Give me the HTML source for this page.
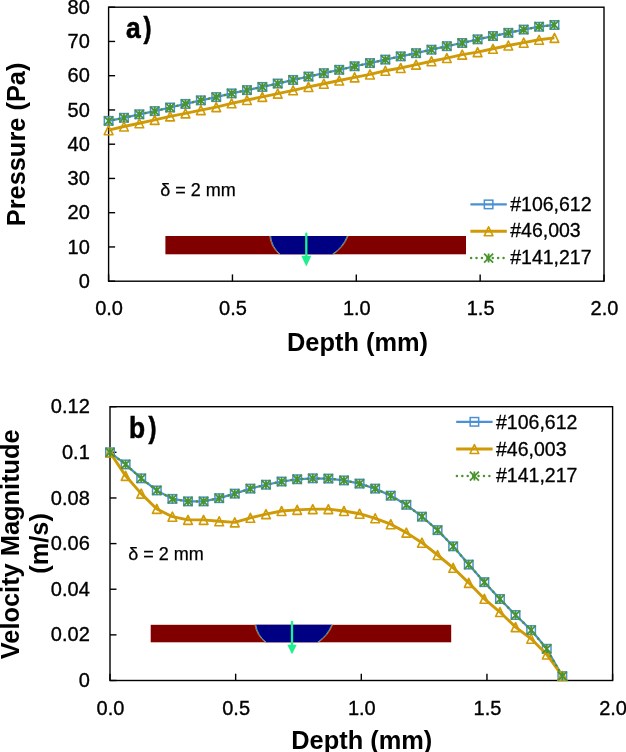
<!DOCTYPE html>
<html><head><meta charset="utf-8"><style>
html,body{margin:0;padding:0;background:#fff;}
body{width:626px;height:752px;overflow:hidden;}
svg{display:block;will-change:transform;}
text{font-family:'Liberation Sans', sans-serif;fill:#000;}
.tk{font-size:20px;stroke:#000;stroke-width:0.35px;}
.lg{font-size:19.5px;stroke:#000;stroke-width:0.3px;}
.dl{font-size:18px;stroke:#000;stroke-width:0.25px;}
.at{font-size:25.4px;font-weight:bold;}
.pl{font-size:30px;font-weight:bold;stroke:#000;stroke-width:0.6px;}
</style></head><body>
<svg width="626" height="752" viewBox="0 0 626 752">
<rect width="626" height="752" fill="#fff"/>
<rect x="108.60" y="7.20" width="495.40" height="274.00" fill="none" stroke="#000" stroke-width="1.4"/>
<line x1="108.60" y1="281.20" x2="108.60" y2="274.40" stroke="#000" stroke-width="1.4"/>
<text x="109.10" y="315.30" text-anchor="middle" class="tk">0.0</text>
<line x1="232.45" y1="281.20" x2="232.45" y2="274.40" stroke="#000" stroke-width="1.4"/>
<text x="232.95" y="315.30" text-anchor="middle" class="tk">0.5</text>
<line x1="356.30" y1="281.20" x2="356.30" y2="274.40" stroke="#000" stroke-width="1.4"/>
<text x="356.80" y="315.30" text-anchor="middle" class="tk">1.0</text>
<line x1="480.15" y1="281.20" x2="480.15" y2="274.40" stroke="#000" stroke-width="1.4"/>
<text x="480.65" y="315.30" text-anchor="middle" class="tk">1.5</text>
<line x1="604.00" y1="281.20" x2="604.00" y2="274.40" stroke="#000" stroke-width="1.4"/>
<text x="604.50" y="315.30" text-anchor="middle" class="tk">2.0</text>
<line x1="108.60" y1="281.20" x2="115.10" y2="281.20" stroke="#000" stroke-width="1.4"/>
<text x="89.80" y="287.80" text-anchor="end" class="tk">0</text>
<line x1="108.60" y1="246.95" x2="115.10" y2="246.95" stroke="#000" stroke-width="1.4"/>
<text x="89.80" y="253.55" text-anchor="end" class="tk">10</text>
<line x1="108.60" y1="212.70" x2="115.10" y2="212.70" stroke="#000" stroke-width="1.4"/>
<text x="89.80" y="219.30" text-anchor="end" class="tk">20</text>
<line x1="108.60" y1="178.45" x2="115.10" y2="178.45" stroke="#000" stroke-width="1.4"/>
<text x="89.80" y="185.05" text-anchor="end" class="tk">30</text>
<line x1="108.60" y1="144.20" x2="115.10" y2="144.20" stroke="#000" stroke-width="1.4"/>
<text x="89.80" y="150.80" text-anchor="end" class="tk">40</text>
<line x1="108.60" y1="109.95" x2="115.10" y2="109.95" stroke="#000" stroke-width="1.4"/>
<text x="89.80" y="116.55" text-anchor="end" class="tk">50</text>
<line x1="108.60" y1="75.70" x2="115.10" y2="75.70" stroke="#000" stroke-width="1.4"/>
<text x="89.80" y="82.30" text-anchor="end" class="tk">60</text>
<line x1="108.60" y1="41.45" x2="115.10" y2="41.45" stroke="#000" stroke-width="1.4"/>
<text x="89.80" y="48.05" text-anchor="end" class="tk">70</text>
<line x1="108.60" y1="7.20" x2="115.10" y2="7.20" stroke="#000" stroke-width="1.4"/>
<text x="89.80" y="13.80" text-anchor="end" class="tk">80</text>
<rect x="165.40" y="236.00" width="300.60" height="18.30" fill="#800000"/>
<path d="M270.30 236.00 A27 27 0 0 0 280.00 254.30 L332.60 254.30 A39 39 0 0 0 347.60 236.00 Z" fill="#000082"/>
<path d="M270.30 236.00 A27 27 0 0 0 280.00 254.30" fill="none" stroke="#f07010" stroke-width="0.9" transform="translate(-0.55 0)"/>
<path d="M270.30 236.00 A27 27 0 0 0 280.00 254.30" fill="none" stroke="#30c0f0" stroke-width="0.8" transform="translate(0.35 0)"/>
<path d="M332.60 254.30 A39 39 0 0 0 347.60 236.00" fill="none" stroke="#f07010" stroke-width="0.9" transform="translate(0.55 0)"/>
<path d="M332.60 254.30 A39 39 0 0 0 347.60 236.00" fill="none" stroke="#30c0f0" stroke-width="0.8" transform="translate(-0.35 0)"/>
<line x1="306.30" y1="233.70" x2="306.30" y2="256.80" stroke="#1ef08e" stroke-width="2.3" stroke-linecap="round"/>
<path d="M301.30 255.80 L311.30 255.80 L306.30 266.40 Z" fill="#1ef08e"/>
<path d="M108.60 120.88 L123.97 117.79 L139.35 114.30 L154.72 111.11 L170.10 107.52 L185.47 103.92 L200.85 100.33 L216.22 97.11 L231.60 93.41 L246.97 90.12 L262.34 86.93 L277.72 83.54 L293.09 79.95 L308.47 76.56 L323.84 73.17 L339.22 69.81 L354.59 66.25 L369.97 63.06 L385.34 59.60 L400.72 56.35 L416.09 53.16 L431.46 49.70 L446.84 46.18 L462.21 42.99 L477.59 39.33 L492.96 36.04 L508.34 32.85 L523.71 29.57 L539.09 26.72 L554.46 24.98" fill="none" stroke="#4a90d2" stroke-width="2.25" stroke-linejoin="round"/>
<rect x="104.35" y="116.63" width="8.50" height="8.50" fill="none" stroke="#4a90d2" stroke-width="1.5"/>
<rect x="119.72" y="113.54" width="8.50" height="8.50" fill="none" stroke="#4a90d2" stroke-width="1.5"/>
<rect x="135.10" y="110.05" width="8.50" height="8.50" fill="none" stroke="#4a90d2" stroke-width="1.5"/>
<rect x="150.47" y="106.86" width="8.50" height="8.50" fill="none" stroke="#4a90d2" stroke-width="1.5"/>
<rect x="165.85" y="103.27" width="8.50" height="8.50" fill="none" stroke="#4a90d2" stroke-width="1.5"/>
<rect x="181.22" y="99.67" width="8.50" height="8.50" fill="none" stroke="#4a90d2" stroke-width="1.5"/>
<rect x="196.60" y="96.08" width="8.50" height="8.50" fill="none" stroke="#4a90d2" stroke-width="1.5"/>
<rect x="211.97" y="92.86" width="8.50" height="8.50" fill="none" stroke="#4a90d2" stroke-width="1.5"/>
<rect x="227.35" y="89.16" width="8.50" height="8.50" fill="none" stroke="#4a90d2" stroke-width="1.5"/>
<rect x="242.72" y="85.87" width="8.50" height="8.50" fill="none" stroke="#4a90d2" stroke-width="1.5"/>
<rect x="258.09" y="82.68" width="8.50" height="8.50" fill="none" stroke="#4a90d2" stroke-width="1.5"/>
<rect x="273.47" y="79.29" width="8.50" height="8.50" fill="none" stroke="#4a90d2" stroke-width="1.5"/>
<rect x="288.84" y="75.70" width="8.50" height="8.50" fill="none" stroke="#4a90d2" stroke-width="1.5"/>
<rect x="304.22" y="72.31" width="8.50" height="8.50" fill="none" stroke="#4a90d2" stroke-width="1.5"/>
<rect x="319.59" y="68.92" width="8.50" height="8.50" fill="none" stroke="#4a90d2" stroke-width="1.5"/>
<rect x="334.97" y="65.56" width="8.50" height="8.50" fill="none" stroke="#4a90d2" stroke-width="1.5"/>
<rect x="350.34" y="62.00" width="8.50" height="8.50" fill="none" stroke="#4a90d2" stroke-width="1.5"/>
<rect x="365.72" y="58.81" width="8.50" height="8.50" fill="none" stroke="#4a90d2" stroke-width="1.5"/>
<rect x="381.09" y="55.35" width="8.50" height="8.50" fill="none" stroke="#4a90d2" stroke-width="1.5"/>
<rect x="396.47" y="52.10" width="8.50" height="8.50" fill="none" stroke="#4a90d2" stroke-width="1.5"/>
<rect x="411.84" y="48.91" width="8.50" height="8.50" fill="none" stroke="#4a90d2" stroke-width="1.5"/>
<rect x="427.21" y="45.45" width="8.50" height="8.50" fill="none" stroke="#4a90d2" stroke-width="1.5"/>
<rect x="442.59" y="41.93" width="8.50" height="8.50" fill="none" stroke="#4a90d2" stroke-width="1.5"/>
<rect x="457.96" y="38.74" width="8.50" height="8.50" fill="none" stroke="#4a90d2" stroke-width="1.5"/>
<rect x="473.34" y="35.08" width="8.50" height="8.50" fill="none" stroke="#4a90d2" stroke-width="1.5"/>
<rect x="488.71" y="31.79" width="8.50" height="8.50" fill="none" stroke="#4a90d2" stroke-width="1.5"/>
<rect x="504.09" y="28.60" width="8.50" height="8.50" fill="none" stroke="#4a90d2" stroke-width="1.5"/>
<rect x="519.46" y="25.32" width="8.50" height="8.50" fill="none" stroke="#4a90d2" stroke-width="1.5"/>
<rect x="534.84" y="22.47" width="8.50" height="8.50" fill="none" stroke="#4a90d2" stroke-width="1.5"/>
<rect x="550.21" y="20.73" width="8.50" height="8.50" fill="none" stroke="#4a90d2" stroke-width="1.5"/>
<path d="M108.60 130.19 L123.97 126.49 L139.35 123.27 L154.72 119.88 L170.10 116.39 L185.47 113.41 L200.85 110.09 L216.22 107.11 L231.60 103.31 L246.97 100.02 L262.34 96.83 L277.72 93.61 L293.09 90.32 L308.47 86.93 L323.84 83.71 L339.22 80.53 L354.59 77.34 L369.97 74.43 L385.34 70.73 L400.72 67.96 L416.09 64.64 L431.46 61.21 L446.84 58.06 L462.21 54.67 L477.59 52.17 L492.96 48.78 L508.34 45.49 L523.71 42.68 L539.09 39.77 L554.46 37.89" fill="none" stroke="#cf9a05" stroke-width="2.9" stroke-linejoin="round"/>
<path d="M108.60 125.69 L112.95 134.69 L104.25 134.69 Z" fill="none" stroke="#cf9a05" stroke-width="1.6" stroke-linejoin="round"/>
<path d="M123.97 121.99 L128.32 130.99 L119.62 130.99 Z" fill="none" stroke="#cf9a05" stroke-width="1.6" stroke-linejoin="round"/>
<path d="M139.35 118.77 L143.70 127.77 L135.00 127.77 Z" fill="none" stroke="#cf9a05" stroke-width="1.6" stroke-linejoin="round"/>
<path d="M154.72 115.38 L159.07 124.38 L150.37 124.38 Z" fill="none" stroke="#cf9a05" stroke-width="1.6" stroke-linejoin="round"/>
<path d="M170.10 111.89 L174.45 120.89 L165.75 120.89 Z" fill="none" stroke="#cf9a05" stroke-width="1.6" stroke-linejoin="round"/>
<path d="M185.47 108.91 L189.82 117.91 L181.12 117.91 Z" fill="none" stroke="#cf9a05" stroke-width="1.6" stroke-linejoin="round"/>
<path d="M200.85 105.59 L205.20 114.59 L196.50 114.59 Z" fill="none" stroke="#cf9a05" stroke-width="1.6" stroke-linejoin="round"/>
<path d="M216.22 102.61 L220.57 111.61 L211.87 111.61 Z" fill="none" stroke="#cf9a05" stroke-width="1.6" stroke-linejoin="round"/>
<path d="M231.60 98.81 L235.95 107.81 L227.25 107.81 Z" fill="none" stroke="#cf9a05" stroke-width="1.6" stroke-linejoin="round"/>
<path d="M246.97 95.52 L251.32 104.52 L242.62 104.52 Z" fill="none" stroke="#cf9a05" stroke-width="1.6" stroke-linejoin="round"/>
<path d="M262.34 92.33 L266.69 101.33 L257.99 101.33 Z" fill="none" stroke="#cf9a05" stroke-width="1.6" stroke-linejoin="round"/>
<path d="M277.72 89.11 L282.07 98.11 L273.37 98.11 Z" fill="none" stroke="#cf9a05" stroke-width="1.6" stroke-linejoin="round"/>
<path d="M293.09 85.82 L297.44 94.82 L288.74 94.82 Z" fill="none" stroke="#cf9a05" stroke-width="1.6" stroke-linejoin="round"/>
<path d="M308.47 82.43 L312.82 91.43 L304.12 91.43 Z" fill="none" stroke="#cf9a05" stroke-width="1.6" stroke-linejoin="round"/>
<path d="M323.84 79.21 L328.19 88.21 L319.49 88.21 Z" fill="none" stroke="#cf9a05" stroke-width="1.6" stroke-linejoin="round"/>
<path d="M339.22 76.03 L343.57 85.03 L334.87 85.03 Z" fill="none" stroke="#cf9a05" stroke-width="1.6" stroke-linejoin="round"/>
<path d="M354.59 72.84 L358.94 81.84 L350.24 81.84 Z" fill="none" stroke="#cf9a05" stroke-width="1.6" stroke-linejoin="round"/>
<path d="M369.97 69.93 L374.32 78.93 L365.62 78.93 Z" fill="none" stroke="#cf9a05" stroke-width="1.6" stroke-linejoin="round"/>
<path d="M385.34 66.23 L389.69 75.23 L380.99 75.23 Z" fill="none" stroke="#cf9a05" stroke-width="1.6" stroke-linejoin="round"/>
<path d="M400.72 63.46 L405.07 72.46 L396.37 72.46 Z" fill="none" stroke="#cf9a05" stroke-width="1.6" stroke-linejoin="round"/>
<path d="M416.09 60.14 L420.44 69.14 L411.74 69.14 Z" fill="none" stroke="#cf9a05" stroke-width="1.6" stroke-linejoin="round"/>
<path d="M431.46 56.71 L435.81 65.71 L427.11 65.71 Z" fill="none" stroke="#cf9a05" stroke-width="1.6" stroke-linejoin="round"/>
<path d="M446.84 53.56 L451.19 62.56 L442.49 62.56 Z" fill="none" stroke="#cf9a05" stroke-width="1.6" stroke-linejoin="round"/>
<path d="M462.21 50.17 L466.56 59.17 L457.86 59.17 Z" fill="none" stroke="#cf9a05" stroke-width="1.6" stroke-linejoin="round"/>
<path d="M477.59 47.67 L481.94 56.67 L473.24 56.67 Z" fill="none" stroke="#cf9a05" stroke-width="1.6" stroke-linejoin="round"/>
<path d="M492.96 44.28 L497.31 53.28 L488.61 53.28 Z" fill="none" stroke="#cf9a05" stroke-width="1.6" stroke-linejoin="round"/>
<path d="M508.34 40.99 L512.69 49.99 L503.99 49.99 Z" fill="none" stroke="#cf9a05" stroke-width="1.6" stroke-linejoin="round"/>
<path d="M523.71 38.18 L528.06 47.18 L519.36 47.18 Z" fill="none" stroke="#cf9a05" stroke-width="1.6" stroke-linejoin="round"/>
<path d="M539.09 35.27 L543.44 44.27 L534.74 44.27 Z" fill="none" stroke="#cf9a05" stroke-width="1.6" stroke-linejoin="round"/>
<path d="M554.46 33.39 L558.81 42.39 L550.11 42.39 Z" fill="none" stroke="#cf9a05" stroke-width="1.6" stroke-linejoin="round"/>
<path d="M108.60 120.88 L123.97 117.79 L139.35 114.30 L154.72 111.11 L170.10 107.52 L185.47 103.92 L200.85 100.33 L216.22 97.11 L231.60 93.41 L246.97 90.12 L262.34 86.93 L277.72 83.54 L293.09 79.95 L308.47 76.56 L323.84 73.17 L339.22 69.81 L354.59 66.25 L369.97 63.06 L385.34 59.60 L400.72 56.35 L416.09 53.16 L431.46 49.70 L446.84 46.18 L462.21 42.99 L477.59 39.33 L492.96 36.04 L508.34 32.85 L523.71 29.57 L539.09 26.72 L554.46 24.98" fill="none" stroke="#4a9430" stroke-width="2.5" stroke-dasharray="0.01 5.4" stroke-linecap="round"/>
<path d="M104.10 116.38 L113.10 125.38 M113.10 116.38 L104.10 125.38 M108.60 116.38 L108.60 125.38" stroke="#4a9430" stroke-width="1.8" fill="none"/>
<path d="M119.47 113.29 L128.47 122.29 M128.47 113.29 L119.47 122.29 M123.97 113.29 L123.97 122.29" stroke="#4a9430" stroke-width="1.8" fill="none"/>
<path d="M134.85 109.80 L143.85 118.80 M143.85 109.80 L134.85 118.80 M139.35 109.80 L139.35 118.80" stroke="#4a9430" stroke-width="1.8" fill="none"/>
<path d="M150.22 106.61 L159.22 115.61 M159.22 106.61 L150.22 115.61 M154.72 106.61 L154.72 115.61" stroke="#4a9430" stroke-width="1.8" fill="none"/>
<path d="M165.60 103.02 L174.60 112.02 M174.60 103.02 L165.60 112.02 M170.10 103.02 L170.10 112.02" stroke="#4a9430" stroke-width="1.8" fill="none"/>
<path d="M180.97 99.42 L189.97 108.42 M189.97 99.42 L180.97 108.42 M185.47 99.42 L185.47 108.42" stroke="#4a9430" stroke-width="1.8" fill="none"/>
<path d="M196.35 95.83 L205.35 104.83 M205.35 95.83 L196.35 104.83 M200.85 95.83 L200.85 104.83" stroke="#4a9430" stroke-width="1.8" fill="none"/>
<path d="M211.72 92.61 L220.72 101.61 M220.72 92.61 L211.72 101.61 M216.22 92.61 L216.22 101.61" stroke="#4a9430" stroke-width="1.8" fill="none"/>
<path d="M227.10 88.91 L236.10 97.91 M236.10 88.91 L227.10 97.91 M231.60 88.91 L231.60 97.91" stroke="#4a9430" stroke-width="1.8" fill="none"/>
<path d="M242.47 85.62 L251.47 94.62 M251.47 85.62 L242.47 94.62 M246.97 85.62 L246.97 94.62" stroke="#4a9430" stroke-width="1.8" fill="none"/>
<path d="M257.84 82.43 L266.84 91.43 M266.84 82.43 L257.84 91.43 M262.34 82.43 L262.34 91.43" stroke="#4a9430" stroke-width="1.8" fill="none"/>
<path d="M273.22 79.04 L282.22 88.04 M282.22 79.04 L273.22 88.04 M277.72 79.04 L277.72 88.04" stroke="#4a9430" stroke-width="1.8" fill="none"/>
<path d="M288.59 75.45 L297.59 84.45 M297.59 75.45 L288.59 84.45 M293.09 75.45 L293.09 84.45" stroke="#4a9430" stroke-width="1.8" fill="none"/>
<path d="M303.97 72.06 L312.97 81.06 M312.97 72.06 L303.97 81.06 M308.47 72.06 L308.47 81.06" stroke="#4a9430" stroke-width="1.8" fill="none"/>
<path d="M319.34 68.67 L328.34 77.67 M328.34 68.67 L319.34 77.67 M323.84 68.67 L323.84 77.67" stroke="#4a9430" stroke-width="1.8" fill="none"/>
<path d="M334.72 65.31 L343.72 74.31 M343.72 65.31 L334.72 74.31 M339.22 65.31 L339.22 74.31" stroke="#4a9430" stroke-width="1.8" fill="none"/>
<path d="M350.09 61.75 L359.09 70.75 M359.09 61.75 L350.09 70.75 M354.59 61.75 L354.59 70.75" stroke="#4a9430" stroke-width="1.8" fill="none"/>
<path d="M365.47 58.56 L374.47 67.56 M374.47 58.56 L365.47 67.56 M369.97 58.56 L369.97 67.56" stroke="#4a9430" stroke-width="1.8" fill="none"/>
<path d="M380.84 55.10 L389.84 64.10 M389.84 55.10 L380.84 64.10 M385.34 55.10 L385.34 64.10" stroke="#4a9430" stroke-width="1.8" fill="none"/>
<path d="M396.22 51.85 L405.22 60.85 M405.22 51.85 L396.22 60.85 M400.72 51.85 L400.72 60.85" stroke="#4a9430" stroke-width="1.8" fill="none"/>
<path d="M411.59 48.66 L420.59 57.66 M420.59 48.66 L411.59 57.66 M416.09 48.66 L416.09 57.66" stroke="#4a9430" stroke-width="1.8" fill="none"/>
<path d="M426.96 45.20 L435.96 54.20 M435.96 45.20 L426.96 54.20 M431.46 45.20 L431.46 54.20" stroke="#4a9430" stroke-width="1.8" fill="none"/>
<path d="M442.34 41.68 L451.34 50.68 M451.34 41.68 L442.34 50.68 M446.84 41.68 L446.84 50.68" stroke="#4a9430" stroke-width="1.8" fill="none"/>
<path d="M457.71 38.49 L466.71 47.49 M466.71 38.49 L457.71 47.49 M462.21 38.49 L462.21 47.49" stroke="#4a9430" stroke-width="1.8" fill="none"/>
<path d="M473.09 34.83 L482.09 43.83 M482.09 34.83 L473.09 43.83 M477.59 34.83 L477.59 43.83" stroke="#4a9430" stroke-width="1.8" fill="none"/>
<path d="M488.46 31.54 L497.46 40.54 M497.46 31.54 L488.46 40.54 M492.96 31.54 L492.96 40.54" stroke="#4a9430" stroke-width="1.8" fill="none"/>
<path d="M503.84 28.35 L512.84 37.35 M512.84 28.35 L503.84 37.35 M508.34 28.35 L508.34 37.35" stroke="#4a9430" stroke-width="1.8" fill="none"/>
<path d="M519.21 25.07 L528.21 34.07 M528.21 25.07 L519.21 34.07 M523.71 25.07 L523.71 34.07" stroke="#4a9430" stroke-width="1.8" fill="none"/>
<path d="M534.59 22.22 L543.59 31.22 M543.59 22.22 L534.59 31.22 M539.09 22.22 L539.09 31.22" stroke="#4a9430" stroke-width="1.8" fill="none"/>
<path d="M549.96 20.48 L558.96 29.48 M558.96 20.48 L549.96 29.48 M554.46 20.48 L554.46 29.48" stroke="#4a9430" stroke-width="1.8" fill="none"/>
<line x1="470.40" y1="204.40" x2="506.80" y2="204.40" stroke="#4a90d2" stroke-width="2.25"/>
<rect x="484.35" y="200.15" width="8.50" height="8.50" fill="none" stroke="#4a90d2" stroke-width="1.5"/>
<line x1="470.40" y1="231.30" x2="506.80" y2="231.30" stroke="#cf9a05" stroke-width="2.9"/>
<path d="M488.60 226.80 L492.95 235.80 L484.25 235.80 Z" fill="none" stroke="#cf9a05" stroke-width="1.6" stroke-linejoin="round"/>
<line x1="471.10" y1="258.10" x2="506.80" y2="258.10" stroke="#4a9430" stroke-width="2.5" stroke-dasharray="0.01 5.4" stroke-linecap="round"/>
<path d="M484.10 253.60 L493.10 262.60 M493.10 253.60 L484.10 262.60 M488.60 253.60 L488.60 262.60" stroke="#4a9430" stroke-width="1.8" fill="none"/>
<text x="510.20" y="210.50" class="lg">#106,612</text>
<text x="510.20" y="236.80" class="lg">#46,003</text>
<text x="510.20" y="263.60" class="lg">#141,217</text>
<text transform="translate(126.0 38.4) scale(0.88 1)" class="pl">a</text>
<text transform="translate(143.4 37.9) scale(0.8 1)" class="pl">)</text>
<text x="160.2" y="195.9" class="dl">δ = 2 mm</text>
<text x="357.5" y="350.6" text-anchor="middle" class="at">Depth (mm)</text>
<text transform="translate(24.75 144.45) rotate(-90)" text-anchor="middle" class="at">Pressure (Pa)</text>
<rect x="110.00" y="406.70" width="502.60" height="273.80" fill="none" stroke="#000" stroke-width="1.4"/>
<line x1="110.00" y1="680.50" x2="110.00" y2="673.70" stroke="#000" stroke-width="1.4"/>
<text x="110.50" y="714.60" text-anchor="middle" class="tk">0.0</text>
<line x1="235.65" y1="680.50" x2="235.65" y2="673.70" stroke="#000" stroke-width="1.4"/>
<text x="236.15" y="714.60" text-anchor="middle" class="tk">0.5</text>
<line x1="361.30" y1="680.50" x2="361.30" y2="673.70" stroke="#000" stroke-width="1.4"/>
<text x="361.80" y="714.60" text-anchor="middle" class="tk">1.0</text>
<line x1="486.95" y1="680.50" x2="486.95" y2="673.70" stroke="#000" stroke-width="1.4"/>
<text x="487.45" y="714.60" text-anchor="middle" class="tk">1.5</text>
<line x1="612.60" y1="680.50" x2="612.60" y2="673.70" stroke="#000" stroke-width="1.4"/>
<text x="613.10" y="714.60" text-anchor="middle" class="tk">2.0</text>
<line x1="110.00" y1="680.50" x2="116.50" y2="680.50" stroke="#000" stroke-width="1.4"/>
<text x="89.80" y="687.10" text-anchor="end" class="tk">0</text>
<line x1="110.00" y1="634.87" x2="116.50" y2="634.87" stroke="#000" stroke-width="1.4"/>
<text x="89.80" y="641.47" text-anchor="end" class="tk">0.02</text>
<line x1="110.00" y1="589.23" x2="116.50" y2="589.23" stroke="#000" stroke-width="1.4"/>
<text x="89.80" y="595.83" text-anchor="end" class="tk">0.04</text>
<line x1="110.00" y1="543.60" x2="116.50" y2="543.60" stroke="#000" stroke-width="1.4"/>
<text x="89.80" y="550.20" text-anchor="end" class="tk">0.06</text>
<line x1="110.00" y1="497.97" x2="116.50" y2="497.97" stroke="#000" stroke-width="1.4"/>
<text x="89.80" y="504.57" text-anchor="end" class="tk">0.08</text>
<line x1="110.00" y1="452.33" x2="116.50" y2="452.33" stroke="#000" stroke-width="1.4"/>
<text x="89.80" y="458.93" text-anchor="end" class="tk">0.1</text>
<line x1="110.00" y1="406.70" x2="116.50" y2="406.70" stroke="#000" stroke-width="1.4"/>
<text x="89.80" y="413.30" text-anchor="end" class="tk">0.12</text>
<rect x="150.70" y="624.80" width="300.50" height="17.50" fill="#800000"/>
<path d="M255.50 624.80 A27 27 0 0 0 266.00 642.30 L317.80 642.30 A39 39 0 0 0 332.10 624.80 Z" fill="#000082"/>
<path d="M255.50 624.80 A27 27 0 0 0 266.00 642.30" fill="none" stroke="#f07010" stroke-width="0.9" transform="translate(-0.55 0)"/>
<path d="M255.50 624.80 A27 27 0 0 0 266.00 642.30" fill="none" stroke="#30c0f0" stroke-width="0.8" transform="translate(0.35 0)"/>
<path d="M317.80 642.30 A39 39 0 0 0 332.10 624.80" fill="none" stroke="#f07010" stroke-width="0.9" transform="translate(0.55 0)"/>
<path d="M317.80 642.30 A39 39 0 0 0 332.10 624.80" fill="none" stroke="#30c0f0" stroke-width="0.8" transform="translate(-0.35 0)"/>
<line x1="292.00" y1="622.00" x2="292.00" y2="645.70" stroke="#1ef08e" stroke-width="2.3" stroke-linecap="round"/>
<path d="M287.30 644.70 L296.70 644.70 L292.00 654.30 Z" fill="#1ef08e"/>
<path d="M110.00 452.33 L125.60 464.43 L141.20 478.34 L156.79 490.44 L172.39 498.88 L187.99 501.39 L203.59 501.39 L219.19 498.19 L234.78 493.63 L250.38 488.61 L265.98 484.73 L281.58 481.54 L297.18 479.26 L312.77 478.34 L328.37 478.57 L343.97 480.40 L359.57 483.59 L375.16 488.61 L390.76 495.68 L406.36 504.81 L421.96 516.68 L437.56 530.14 L453.15 546.34 L468.75 564.59 L484.35 582.16 L499.95 599.04 L515.55 615.02 L531.14 630.08 L546.74 648.78 L562.34 676.16" fill="none" stroke="#4a90d2" stroke-width="2.25" stroke-linejoin="round"/>
<rect x="105.75" y="448.08" width="8.50" height="8.50" fill="none" stroke="#4a90d2" stroke-width="1.5"/>
<rect x="121.35" y="460.18" width="8.50" height="8.50" fill="none" stroke="#4a90d2" stroke-width="1.5"/>
<rect x="136.95" y="474.09" width="8.50" height="8.50" fill="none" stroke="#4a90d2" stroke-width="1.5"/>
<rect x="152.54" y="486.19" width="8.50" height="8.50" fill="none" stroke="#4a90d2" stroke-width="1.5"/>
<rect x="168.14" y="494.63" width="8.50" height="8.50" fill="none" stroke="#4a90d2" stroke-width="1.5"/>
<rect x="183.74" y="497.14" width="8.50" height="8.50" fill="none" stroke="#4a90d2" stroke-width="1.5"/>
<rect x="199.34" y="497.14" width="8.50" height="8.50" fill="none" stroke="#4a90d2" stroke-width="1.5"/>
<rect x="214.94" y="493.94" width="8.50" height="8.50" fill="none" stroke="#4a90d2" stroke-width="1.5"/>
<rect x="230.53" y="489.38" width="8.50" height="8.50" fill="none" stroke="#4a90d2" stroke-width="1.5"/>
<rect x="246.13" y="484.36" width="8.50" height="8.50" fill="none" stroke="#4a90d2" stroke-width="1.5"/>
<rect x="261.73" y="480.48" width="8.50" height="8.50" fill="none" stroke="#4a90d2" stroke-width="1.5"/>
<rect x="277.33" y="477.29" width="8.50" height="8.50" fill="none" stroke="#4a90d2" stroke-width="1.5"/>
<rect x="292.93" y="475.01" width="8.50" height="8.50" fill="none" stroke="#4a90d2" stroke-width="1.5"/>
<rect x="308.52" y="474.09" width="8.50" height="8.50" fill="none" stroke="#4a90d2" stroke-width="1.5"/>
<rect x="324.12" y="474.32" width="8.50" height="8.50" fill="none" stroke="#4a90d2" stroke-width="1.5"/>
<rect x="339.72" y="476.15" width="8.50" height="8.50" fill="none" stroke="#4a90d2" stroke-width="1.5"/>
<rect x="355.32" y="479.34" width="8.50" height="8.50" fill="none" stroke="#4a90d2" stroke-width="1.5"/>
<rect x="370.91" y="484.36" width="8.50" height="8.50" fill="none" stroke="#4a90d2" stroke-width="1.5"/>
<rect x="386.51" y="491.43" width="8.50" height="8.50" fill="none" stroke="#4a90d2" stroke-width="1.5"/>
<rect x="402.11" y="500.56" width="8.50" height="8.50" fill="none" stroke="#4a90d2" stroke-width="1.5"/>
<rect x="417.71" y="512.43" width="8.50" height="8.50" fill="none" stroke="#4a90d2" stroke-width="1.5"/>
<rect x="433.31" y="525.89" width="8.50" height="8.50" fill="none" stroke="#4a90d2" stroke-width="1.5"/>
<rect x="448.90" y="542.09" width="8.50" height="8.50" fill="none" stroke="#4a90d2" stroke-width="1.5"/>
<rect x="464.50" y="560.34" width="8.50" height="8.50" fill="none" stroke="#4a90d2" stroke-width="1.5"/>
<rect x="480.10" y="577.91" width="8.50" height="8.50" fill="none" stroke="#4a90d2" stroke-width="1.5"/>
<rect x="495.70" y="594.79" width="8.50" height="8.50" fill="none" stroke="#4a90d2" stroke-width="1.5"/>
<rect x="511.30" y="610.77" width="8.50" height="8.50" fill="none" stroke="#4a90d2" stroke-width="1.5"/>
<rect x="526.89" y="625.83" width="8.50" height="8.50" fill="none" stroke="#4a90d2" stroke-width="1.5"/>
<rect x="542.49" y="644.53" width="8.50" height="8.50" fill="none" stroke="#4a90d2" stroke-width="1.5"/>
<rect x="558.09" y="671.91" width="8.50" height="8.50" fill="none" stroke="#4a90d2" stroke-width="1.5"/>
<path d="M110.00 452.33 L125.60 475.83 L141.20 493.63 L156.79 508.92 L172.39 516.68 L187.99 519.87 L203.59 519.87 L219.19 521.24 L234.78 522.38 L250.38 517.82 L265.98 514.17 L281.58 510.97 L297.18 509.83 L312.77 509.15 L328.37 509.15 L343.97 510.97 L359.57 513.71 L375.16 518.27 L390.76 524.21 L406.36 532.65 L421.96 542.69 L437.56 555.01 L453.15 567.79 L468.75 582.84 L484.35 598.82 L499.95 612.05 L515.55 627.11 L531.14 638.75 L546.74 654.49 L562.34 675.94" fill="none" stroke="#cf9a05" stroke-width="2.9" stroke-linejoin="round"/>
<path d="M110.00 447.83 L114.35 456.83 L105.65 456.83 Z" fill="none" stroke="#cf9a05" stroke-width="1.6" stroke-linejoin="round"/>
<path d="M125.60 471.33 L129.95 480.33 L121.25 480.33 Z" fill="none" stroke="#cf9a05" stroke-width="1.6" stroke-linejoin="round"/>
<path d="M141.20 489.13 L145.55 498.13 L136.85 498.13 Z" fill="none" stroke="#cf9a05" stroke-width="1.6" stroke-linejoin="round"/>
<path d="M156.79 504.42 L161.14 513.42 L152.44 513.42 Z" fill="none" stroke="#cf9a05" stroke-width="1.6" stroke-linejoin="round"/>
<path d="M172.39 512.18 L176.74 521.18 L168.04 521.18 Z" fill="none" stroke="#cf9a05" stroke-width="1.6" stroke-linejoin="round"/>
<path d="M187.99 515.37 L192.34 524.37 L183.64 524.37 Z" fill="none" stroke="#cf9a05" stroke-width="1.6" stroke-linejoin="round"/>
<path d="M203.59 515.37 L207.94 524.37 L199.24 524.37 Z" fill="none" stroke="#cf9a05" stroke-width="1.6" stroke-linejoin="round"/>
<path d="M219.19 516.74 L223.54 525.74 L214.84 525.74 Z" fill="none" stroke="#cf9a05" stroke-width="1.6" stroke-linejoin="round"/>
<path d="M234.78 517.88 L239.13 526.88 L230.43 526.88 Z" fill="none" stroke="#cf9a05" stroke-width="1.6" stroke-linejoin="round"/>
<path d="M250.38 513.32 L254.73 522.32 L246.03 522.32 Z" fill="none" stroke="#cf9a05" stroke-width="1.6" stroke-linejoin="round"/>
<path d="M265.98 509.67 L270.33 518.67 L261.63 518.67 Z" fill="none" stroke="#cf9a05" stroke-width="1.6" stroke-linejoin="round"/>
<path d="M281.58 506.47 L285.93 515.47 L277.23 515.47 Z" fill="none" stroke="#cf9a05" stroke-width="1.6" stroke-linejoin="round"/>
<path d="M297.18 505.33 L301.53 514.33 L292.83 514.33 Z" fill="none" stroke="#cf9a05" stroke-width="1.6" stroke-linejoin="round"/>
<path d="M312.77 504.65 L317.12 513.65 L308.42 513.65 Z" fill="none" stroke="#cf9a05" stroke-width="1.6" stroke-linejoin="round"/>
<path d="M328.37 504.65 L332.72 513.65 L324.02 513.65 Z" fill="none" stroke="#cf9a05" stroke-width="1.6" stroke-linejoin="round"/>
<path d="M343.97 506.47 L348.32 515.47 L339.62 515.47 Z" fill="none" stroke="#cf9a05" stroke-width="1.6" stroke-linejoin="round"/>
<path d="M359.57 509.21 L363.92 518.21 L355.22 518.21 Z" fill="none" stroke="#cf9a05" stroke-width="1.6" stroke-linejoin="round"/>
<path d="M375.16 513.77 L379.51 522.77 L370.81 522.77 Z" fill="none" stroke="#cf9a05" stroke-width="1.6" stroke-linejoin="round"/>
<path d="M390.76 519.71 L395.11 528.71 L386.41 528.71 Z" fill="none" stroke="#cf9a05" stroke-width="1.6" stroke-linejoin="round"/>
<path d="M406.36 528.15 L410.71 537.15 L402.01 537.15 Z" fill="none" stroke="#cf9a05" stroke-width="1.6" stroke-linejoin="round"/>
<path d="M421.96 538.19 L426.31 547.19 L417.61 547.19 Z" fill="none" stroke="#cf9a05" stroke-width="1.6" stroke-linejoin="round"/>
<path d="M437.56 550.51 L441.91 559.51 L433.21 559.51 Z" fill="none" stroke="#cf9a05" stroke-width="1.6" stroke-linejoin="round"/>
<path d="M453.15 563.29 L457.50 572.29 L448.80 572.29 Z" fill="none" stroke="#cf9a05" stroke-width="1.6" stroke-linejoin="round"/>
<path d="M468.75 578.34 L473.10 587.34 L464.40 587.34 Z" fill="none" stroke="#cf9a05" stroke-width="1.6" stroke-linejoin="round"/>
<path d="M484.35 594.32 L488.70 603.32 L480.00 603.32 Z" fill="none" stroke="#cf9a05" stroke-width="1.6" stroke-linejoin="round"/>
<path d="M499.95 607.55 L504.30 616.55 L495.60 616.55 Z" fill="none" stroke="#cf9a05" stroke-width="1.6" stroke-linejoin="round"/>
<path d="M515.55 622.61 L519.90 631.61 L511.20 631.61 Z" fill="none" stroke="#cf9a05" stroke-width="1.6" stroke-linejoin="round"/>
<path d="M531.14 634.25 L535.49 643.25 L526.79 643.25 Z" fill="none" stroke="#cf9a05" stroke-width="1.6" stroke-linejoin="round"/>
<path d="M546.74 649.99 L551.09 658.99 L542.39 658.99 Z" fill="none" stroke="#cf9a05" stroke-width="1.6" stroke-linejoin="round"/>
<path d="M562.34 671.44 L566.69 680.44 L557.99 680.44 Z" fill="none" stroke="#cf9a05" stroke-width="1.6" stroke-linejoin="round"/>
<path d="M110.00 452.33 L125.60 464.43 L141.20 478.34 L156.79 490.44 L172.39 498.88 L187.99 501.39 L203.59 501.39 L219.19 498.19 L234.78 493.63 L250.38 488.61 L265.98 484.73 L281.58 481.54 L297.18 479.26 L312.77 478.34 L328.37 478.57 L343.97 480.40 L359.57 483.59 L375.16 488.61 L390.76 495.68 L406.36 504.81 L421.96 516.68 L437.56 530.14 L453.15 546.34 L468.75 564.59 L484.35 582.16 L499.95 599.04 L515.55 615.02 L531.14 630.08 L546.74 648.78 L562.34 676.16" fill="none" stroke="#4a9430" stroke-width="2.5" stroke-dasharray="0.01 5.4" stroke-linecap="round"/>
<path d="M105.50 447.83 L114.50 456.83 M114.50 447.83 L105.50 456.83 M110.00 447.83 L110.00 456.83" stroke="#4a9430" stroke-width="1.8" fill="none"/>
<path d="M121.10 459.93 L130.10 468.93 M130.10 459.93 L121.10 468.93 M125.60 459.93 L125.60 468.93" stroke="#4a9430" stroke-width="1.8" fill="none"/>
<path d="M136.70 473.84 L145.70 482.84 M145.70 473.84 L136.70 482.84 M141.20 473.84 L141.20 482.84" stroke="#4a9430" stroke-width="1.8" fill="none"/>
<path d="M152.29 485.94 L161.29 494.94 M161.29 485.94 L152.29 494.94 M156.79 485.94 L156.79 494.94" stroke="#4a9430" stroke-width="1.8" fill="none"/>
<path d="M167.89 494.38 L176.89 503.38 M176.89 494.38 L167.89 503.38 M172.39 494.38 L172.39 503.38" stroke="#4a9430" stroke-width="1.8" fill="none"/>
<path d="M183.49 496.89 L192.49 505.89 M192.49 496.89 L183.49 505.89 M187.99 496.89 L187.99 505.89" stroke="#4a9430" stroke-width="1.8" fill="none"/>
<path d="M199.09 496.89 L208.09 505.89 M208.09 496.89 L199.09 505.89 M203.59 496.89 L203.59 505.89" stroke="#4a9430" stroke-width="1.8" fill="none"/>
<path d="M214.69 493.69 L223.69 502.69 M223.69 493.69 L214.69 502.69 M219.19 493.69 L219.19 502.69" stroke="#4a9430" stroke-width="1.8" fill="none"/>
<path d="M230.28 489.13 L239.28 498.13 M239.28 489.13 L230.28 498.13 M234.78 489.13 L234.78 498.13" stroke="#4a9430" stroke-width="1.8" fill="none"/>
<path d="M245.88 484.11 L254.88 493.11 M254.88 484.11 L245.88 493.11 M250.38 484.11 L250.38 493.11" stroke="#4a9430" stroke-width="1.8" fill="none"/>
<path d="M261.48 480.23 L270.48 489.23 M270.48 480.23 L261.48 489.23 M265.98 480.23 L265.98 489.23" stroke="#4a9430" stroke-width="1.8" fill="none"/>
<path d="M277.08 477.04 L286.08 486.04 M286.08 477.04 L277.08 486.04 M281.58 477.04 L281.58 486.04" stroke="#4a9430" stroke-width="1.8" fill="none"/>
<path d="M292.68 474.76 L301.68 483.76 M301.68 474.76 L292.68 483.76 M297.18 474.76 L297.18 483.76" stroke="#4a9430" stroke-width="1.8" fill="none"/>
<path d="M308.27 473.84 L317.27 482.84 M317.27 473.84 L308.27 482.84 M312.77 473.84 L312.77 482.84" stroke="#4a9430" stroke-width="1.8" fill="none"/>
<path d="M323.87 474.07 L332.87 483.07 M332.87 474.07 L323.87 483.07 M328.37 474.07 L328.37 483.07" stroke="#4a9430" stroke-width="1.8" fill="none"/>
<path d="M339.47 475.90 L348.47 484.90 M348.47 475.90 L339.47 484.90 M343.97 475.90 L343.97 484.90" stroke="#4a9430" stroke-width="1.8" fill="none"/>
<path d="M355.07 479.09 L364.07 488.09 M364.07 479.09 L355.07 488.09 M359.57 479.09 L359.57 488.09" stroke="#4a9430" stroke-width="1.8" fill="none"/>
<path d="M370.66 484.11 L379.66 493.11 M379.66 484.11 L370.66 493.11 M375.16 484.11 L375.16 493.11" stroke="#4a9430" stroke-width="1.8" fill="none"/>
<path d="M386.26 491.18 L395.26 500.18 M395.26 491.18 L386.26 500.18 M390.76 491.18 L390.76 500.18" stroke="#4a9430" stroke-width="1.8" fill="none"/>
<path d="M401.86 500.31 L410.86 509.31 M410.86 500.31 L401.86 509.31 M406.36 500.31 L406.36 509.31" stroke="#4a9430" stroke-width="1.8" fill="none"/>
<path d="M417.46 512.18 L426.46 521.18 M426.46 512.18 L417.46 521.18 M421.96 512.18 L421.96 521.18" stroke="#4a9430" stroke-width="1.8" fill="none"/>
<path d="M433.06 525.64 L442.06 534.64 M442.06 525.64 L433.06 534.64 M437.56 525.64 L437.56 534.64" stroke="#4a9430" stroke-width="1.8" fill="none"/>
<path d="M448.65 541.84 L457.65 550.84 M457.65 541.84 L448.65 550.84 M453.15 541.84 L453.15 550.84" stroke="#4a9430" stroke-width="1.8" fill="none"/>
<path d="M464.25 560.09 L473.25 569.09 M473.25 560.09 L464.25 569.09 M468.75 560.09 L468.75 569.09" stroke="#4a9430" stroke-width="1.8" fill="none"/>
<path d="M479.85 577.66 L488.85 586.66 M488.85 577.66 L479.85 586.66 M484.35 577.66 L484.35 586.66" stroke="#4a9430" stroke-width="1.8" fill="none"/>
<path d="M495.45 594.54 L504.45 603.54 M504.45 594.54 L495.45 603.54 M499.95 594.54 L499.95 603.54" stroke="#4a9430" stroke-width="1.8" fill="none"/>
<path d="M511.05 610.52 L520.05 619.52 M520.05 610.52 L511.05 619.52 M515.55 610.52 L515.55 619.52" stroke="#4a9430" stroke-width="1.8" fill="none"/>
<path d="M526.64 625.58 L535.64 634.58 M535.64 625.58 L526.64 634.58 M531.14 625.58 L531.14 634.58" stroke="#4a9430" stroke-width="1.8" fill="none"/>
<path d="M542.24 644.28 L551.24 653.28 M551.24 644.28 L542.24 653.28 M546.74 644.28 L546.74 653.28" stroke="#4a9430" stroke-width="1.8" fill="none"/>
<path d="M557.84 671.66 L566.84 680.66 M566.84 671.66 L557.84 680.66 M562.34 671.66 L562.34 680.66" stroke="#4a9430" stroke-width="1.8" fill="none"/>
<line x1="456.20" y1="421.80" x2="492.60" y2="421.80" stroke="#4a90d2" stroke-width="2.25"/>
<rect x="470.15" y="417.55" width="8.50" height="8.50" fill="none" stroke="#4a90d2" stroke-width="1.5"/>
<line x1="456.20" y1="449.00" x2="492.60" y2="449.00" stroke="#cf9a05" stroke-width="2.9"/>
<path d="M474.40 444.50 L478.75 453.50 L470.05 453.50 Z" fill="none" stroke="#cf9a05" stroke-width="1.6" stroke-linejoin="round"/>
<line x1="456.90" y1="476.10" x2="492.60" y2="476.10" stroke="#4a9430" stroke-width="2.5" stroke-dasharray="0.01 5.4" stroke-linecap="round"/>
<path d="M469.90 471.60 L478.90 480.60 M478.90 471.60 L469.90 480.60 M474.40 471.60 L474.40 480.60" stroke="#4a9430" stroke-width="1.8" fill="none"/>
<text x="496.00" y="429.10" class="lg">#106,612</text>
<text x="496.00" y="455.90" class="lg">#46,003</text>
<text x="496.00" y="481.90" class="lg">#141,217</text>
<text transform="translate(128.95 438.4) scale(0.88 1)" class="pl">b</text>
<text transform="translate(148.4 437.8) scale(0.8 1)" class="pl">)</text>
<text x="128.2" y="560.4" class="dl">δ = 2 mm</text>
<text x="361.8" y="748.5" text-anchor="middle" class="at">Depth (mm)</text>
<text transform="translate(19 544.25) rotate(-90)" text-anchor="middle" class="at">Velocity Magnitude</text>
<text transform="translate(48 543.5) rotate(-90)" text-anchor="middle" class="at">(m/s)</text>
</svg>
</body></html>
